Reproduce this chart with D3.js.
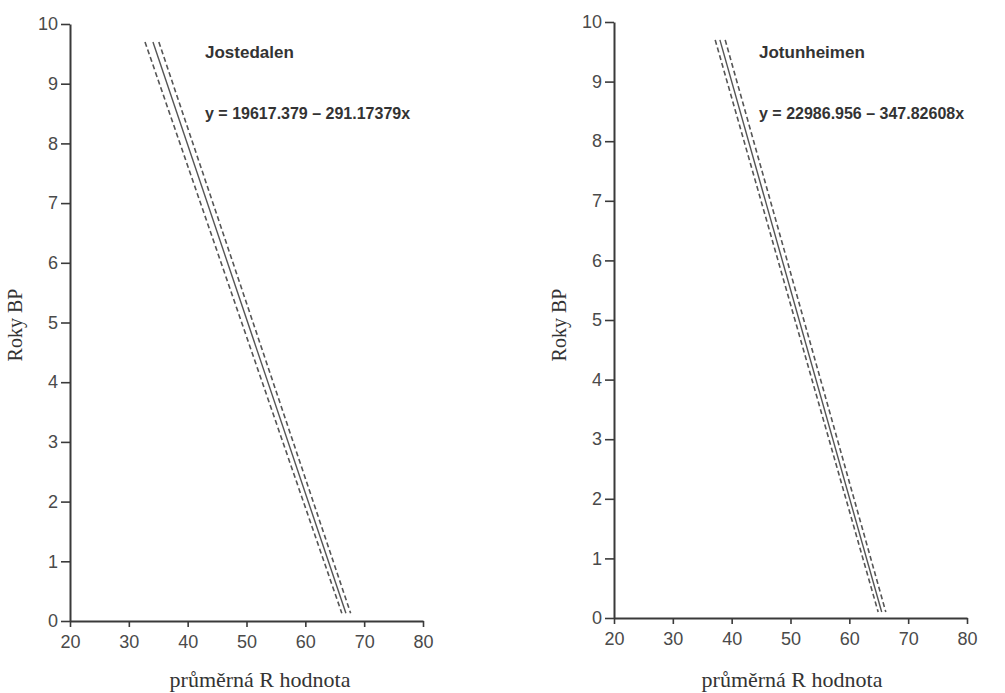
<!DOCTYPE html>
<html>
<head>
<meta charset="utf-8">
<script src="https://cdn.jsdelivr.net/npm/d3@7"></script>
<style>
  body { margin: 0; background: #fff; }
  svg { display: block; }
</style>
</head>
<body>
<div id="chart"></div>
<script>
// tick values shared by both panels
var xTicks = [20, 30, 40, 50, 60, 70, 80];
var yTicks = [0, 1, 2, 3, 4, 5, 6, 7, 8, 9, 10];

// panel names and fitted equations
var panelTitles = ["Jostedalen", "Jotunheimen"];
var equations = ["y = 19617.379 \u2013 291.17379x", "y = 22986.956 \u2013 347.82608x"];

// line end points: [R value, Roky BP (thousands)]
var jostLower = [[32.75, 9.7], [66.2, 0.13]];
var jostFit   = [[34.1, 9.7], [66.9, 0.13]];
var jostUpper = [[35.1, 9.7], [67.7, 0.13]];

var jotuLower = [[37.2, 9.7], [64.9, 0.1]];
var jotuFit   = [[38.0, 9.7], [65.5, 0.1]];
var jotuUpper = [[38.9, 9.7], [66.2, 0.1]];

var panelLines = [
  [jostLower, jostFit, jostUpper],
  [jotuLower, jotuFit, jotuUpper]
];

var W = 1005, H = 693;
var svg = d3.select("#chart").append("svg").attr("width", W).attr("height", H);

// plot boxes (pixel ranges of the axes)
var boxes = [
  {x0: 70, x1: 423, y0: 621, y1: 24, titleX: 205, labelX: 260},
  {x0: 614, x1: 967, y0: 618, y1: 22, titleX: 759, labelX: 792}
];

var axisColor = "#3a3a3a";
var sans = "'Liberation Sans', Arial, sans-serif";
var serif = "'Liberation Serif', 'Times New Roman', serif";

boxes.forEach(function(b, p) {
  var x = d3.scaleLinear().domain([20, 80]).range([b.x0, b.x1]);
  var y = d3.scaleLinear().domain([0, 10]).range([b.y0, b.y1]);
  var g = svg.append("g");

  // x axis
  var xa = g.append("g")
    .attr("transform", "translate(0," + b.y0 + ")")
    .call(d3.axisBottom(x).tickValues(xTicks).tickSize(6).tickSizeOuter(0).tickPadding(8));
  // y axis
  var ya = g.append("g")
    .attr("transform", "translate(" + b.x0 + ",0)")
    .call(d3.axisLeft(y).tickValues(yTicks).tickSize(9).tickSizeOuter(0).tickPadding(3));

  [xa, ya].forEach(function(a) {
    a.select(".domain").attr("stroke", axisColor).attr("stroke-width", 2);
    a.selectAll(".tick line").attr("stroke", axisColor).attr("stroke-width", 1.6);
    a.selectAll(".tick text")
      .attr("fill", "#4a4a4a")
      .style("font-family", sans)
      .style("font-size", "18px");
  });

  // axis titles
  g.append("text")
    .attr("x", b.labelX)
    .attr("y", 687)
    .attr("text-anchor", "middle")
    .style("font-family", serif)
    .style("font-size", "22px")
    .attr("fill", "#333")
    .text("pr\u016Fm\u011Brn\u00E1 R hodnota");

  g.append("text")
    .attr("transform", "translate(" + (b.x0 - 48) + ",325) rotate(-90)")
    .attr("text-anchor", "middle")
    .style("font-family", serif)
    .style("font-size", "20px")
    .attr("fill", "#333")
    .text("Roky BP");

  // panel title and equation
  g.append("text")
    .attr("x", b.titleX).attr("y", 58)
    .style("font-family", sans)
    .style("font-size", "17px")
    .style("font-weight", "bold")
    .attr("fill", "#333")
    .text(panelTitles[p]);

  g.append("text")
    .attr("x", b.titleX).attr("y", 119)
    .style("font-family", sans)
    .style("font-size", "16px")
    .style("font-weight", "bold")
    .attr("fill", "#333")
    .text(equations[p]);

  // regression line and confidence lines
  var line = d3.line()
    .x(function(d) { return x(d[0]); })
    .y(function(d) { return y(d[1]); });

  g.selectAll(".fit")
    .data(panelLines[p])
    .enter().append("path")
    .attr("d", line)
    .attr("fill", "none")
    .attr("stroke", "#555")
    .attr("stroke-width", function(d, i) { return i === 1 ? 1.4 : 1.6; })
    .attr("stroke-dasharray", function(d, i) { return i === 1 ? null : "5,3"; });
});
</script>
</body>
</html>
